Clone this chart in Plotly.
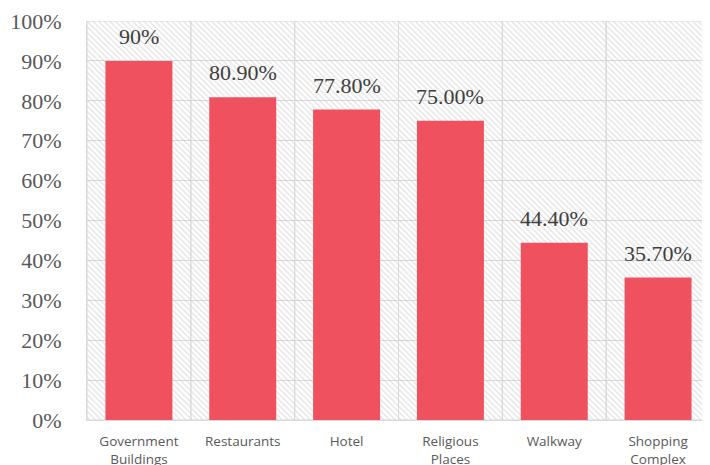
import plotly.graph_objects as go

categories = ["Government<br>Buildings", "Restaurants", "Hotel", "Religious<br>Places", "Walkway", "Shopping<br>Complex"]
values = [0.90, 0.809, 0.778, 0.75, 0.444, 0.357]
value_labels = ["90%", "80.90%", "77.80%", "75.00%", "44.40%", "35.70%"]
y_ticks = [i / 10 for i in range(11)]
y_tick_labels = [f"{i*10}%" for i in range(11)]

bar_color = "#F0515E"
grid_color = "#D9D9D9"
serif = "Liberation Serif, Times New Roman, serif"

fig = go.Figure()

# hatched background cells
fig.add_trace(go.Bar(
    x=categories, y=[1.0] * len(categories), width=1.0,
    marker=dict(color="rgba(0,0,0,0)",
                line=dict(color=grid_color, width=1),
                pattern=dict(shape="\\", fgcolor="#C4C4C4", bgcolor="rgba(0,0,0,0)",
                             size=4, solidity=0.3, fillmode="overlay")),
    hoverinfo="skip", showlegend=False,
))

fig.add_trace(go.Bar(
    x=categories, y=values, width=0.645,
    marker=dict(color=bar_color, line=dict(width=0)),
    showlegend=False,
))

for c, v, t in zip(categories, values, value_labels):
    fig.add_annotation(x=c, y=v, text=t, showarrow=False, yanchor="bottom", yshift=10,
                       font=dict(family=serif, size=22, color="#404040"))

fig.update_layout(
    width=702, height=457,
    margin=dict(l=79, r=0, t=13, b=45, autoexpand=False),
    paper_bgcolor="white", plot_bgcolor="white",
    barmode="overlay",
    xaxis=dict(showgrid=False, showline=True, linecolor=grid_color, linewidth=1,
               tickfont=dict(family="Open Sans", size=13.5, color="#595959"),
               ticks="", ticklabelstandoff=9, automargin=False),
    yaxis=dict(range=[0, 1], tickvals=y_ticks, ticktext=y_tick_labels,
               showgrid=True, gridcolor=grid_color, gridwidth=1,
               zeroline=False, showline=True, linecolor=grid_color,
               tickfont=dict(family=serif, size=22, color="#595959"),
               ticks="", ticklabelstandoff=20, automargin=False),
)

fig.write_html("out.html")
